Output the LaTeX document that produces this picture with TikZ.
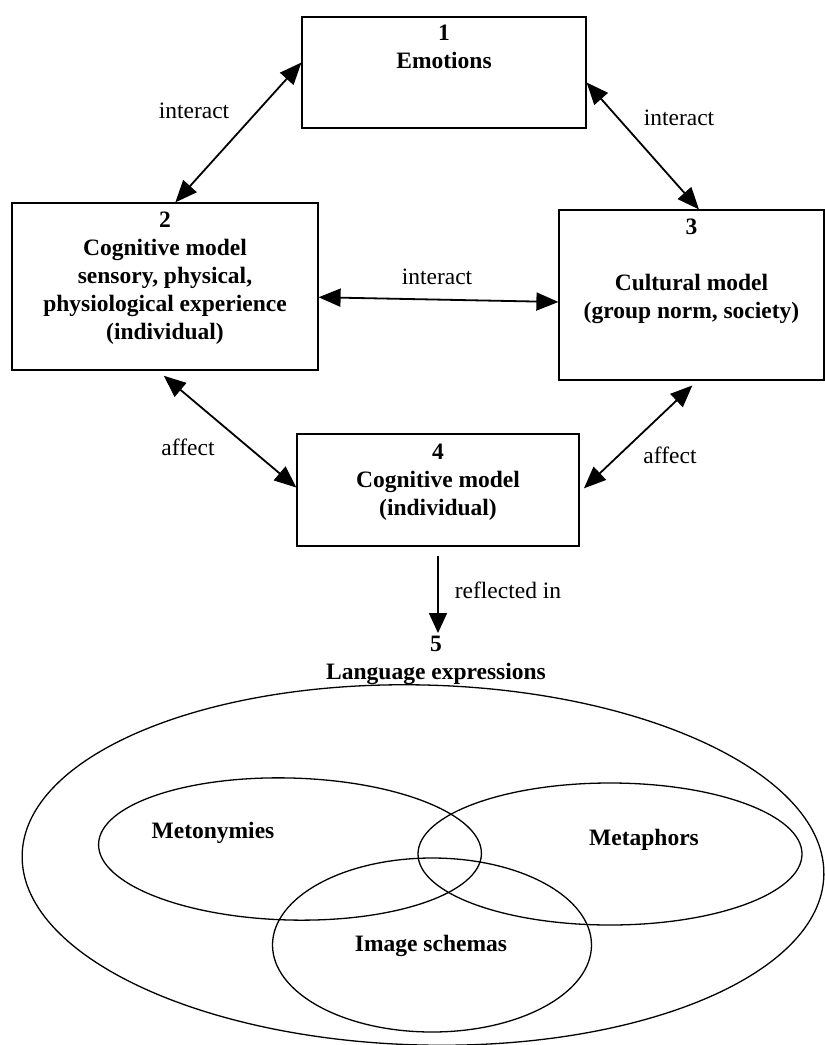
\documentclass[tikz,border=0pt]{standalone}
\usepackage{fontspec}
\setmainfont{Liberation Serif}
\usetikzlibrary{arrows.meta}
\tikzset{
  box/.style={draw,line width=1.2pt,inner sep=0pt},
  boxtext/.style={align=center,inner sep=0pt,anchor=north,font=\fontsize{23.5}{28}\selectfont\bfseries},
  lbl/.style={inner sep=0pt,font=\fontsize{23.5}{28}\selectfont},
  setname/.style={inner sep=0pt,font=\fontsize{23.5}{28}\selectfont\bfseries},
  link/.style={{Triangle[length=22pt,width=18pt]}-{Triangle[length=22pt,width=18pt]},line width=1.8pt},
  flow/.style={-{Triangle[length=20pt,width=18pt]},line width=1.8pt},
  venn/.style={line width=1.3pt}
}

\begin{document}
\begin{tikzpicture}[x=1pt,y=-1pt]
  \useasboundingbox (0,0) rectangle (825,1045);
  % the four boxes
  \node[box,minimum width=284pt,minimum height=111pt] (emo) at (444,72.5) {};
  \node[box,minimum width=306pt,minimum height=167pt] (cog) at (165,286.5) {};
  \node[box,minimum width=265pt,minimum height=170pt] (cult) at (691.5,295) {};
  \node[box,minimum width=282pt,minimum height=112pt] (cogind) at (438,490) {};
  \node[boxtext] (emotxt) at (444,25) {1\\Emotions};
  \node[boxtext] (cogtxt) at (165,212) {2\\Cognitive model\\sensory, physical,\\physiological experience\\(individual)};
  \node[boxtext] (culttxt) at (691.5,219) {3\\[28pt]Cultural model\\(group norm, society)};
  \node[boxtext] (cogindtxt) at (438,444) {4\\Cognitive model\\(individual)};
  \node[boxtext] (lang) at (436,636) {5\\Language expressions};
  % connectors
  \draw[link] (emo.176) -- (cog.83);
  \draw[link] (emo.-4) -- (cult.85);
  \draw[link] (cog.-4.7) -- (cult.183.5);
  \draw[link,shorten <=8pt] (cog.-95) -- (cogind.179);
  \draw[link,shorten <=7pt,shorten >=6pt] (cult.-86.5) -- (cogind.-1);
  \draw[flow,shorten <=9pt,shorten >=3pt] (cogind.south) -- (cogind.south |- lang.north);
  \node[lbl] (int12) at (194,111) {interact};
  \node[lbl] (int13) at (679,118) {interact};
  \node[lbl] (int23) at (437,277) {interact};
  \node[lbl] (aff24) at (188,447) {affect};
  \node[lbl] (aff34) at (670,455) {affect};
  \node[lbl] (refl) at (508,590) {reflected in};
  % language expressions
  \draw[venn,rotate around={-1.5:(423,865)}] (423,865) ellipse [x radius=401, y radius=180];
  \draw[venn,rotate around={-1.5:(290,849)}] (290,849) ellipse [x radius=191.5, y radius=71];
  \draw[venn] (610,854) ellipse [x radius=192, y radius=71];
  \draw[venn] (432,945) ellipse [x radius=159.5, y radius=87];
  \node[setname] (meto) at (213,833) {Metonymies};
  \node[setname] (meta) at (644,840) {Metaphors};
  \node[setname] (schem) at (431,946) {Image schemas};
\end{tikzpicture}
\end{document}
